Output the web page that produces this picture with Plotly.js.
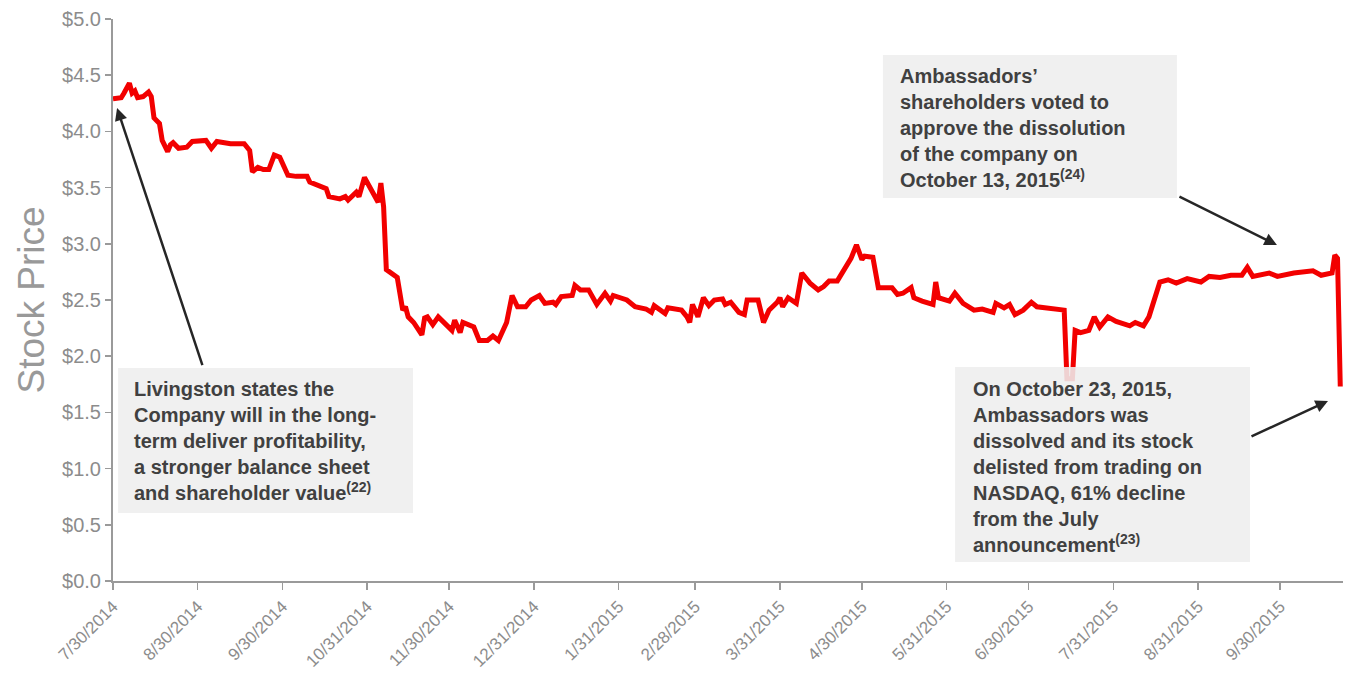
<!DOCTYPE html>
<html>
<head>
<meta charset="utf-8">
<script src="https://cdn.plot.ly/plotly-3.0.1.min.js"></script>
<style>
  html, body { margin: 0; padding: 0; background: #ffffff; }
  #chart { width: 1345px; height: 684px; }
</style>
</head>
<body>
<div id="chart"></div>
<script>
// ---- Data ----
const dates = [
  '2014-07-30','2014-08-02','2014-08-03','2014-08-05','2014-08-06','2014-08-07','2014-08-08','2014-08-10',
  '2014-08-12','2014-08-13','2014-08-14','2014-08-16','2014-08-17','2014-08-19','2014-08-20','2014-08-21',
  '2014-08-23','2014-08-26','2014-08-28','2014-09-02','2014-09-04','2014-09-06','2014-09-11','2014-09-16',
  '2014-09-18','2014-09-19','2014-09-21','2014-09-23','2014-09-25','2014-09-27','2014-09-29','2014-10-02',
  '2014-10-05','2014-10-09','2014-10-10','2014-10-13','2014-10-16','2014-10-17','2014-10-21','2014-10-23',
  '2014-10-24','2014-10-27','2014-10-28','2014-10-30','2014-11-01','2014-11-04','2014-11-05','2014-11-06',
  '2014-11-07','2014-11-09','2014-11-11','2014-11-13','2014-11-14','2014-11-15','2014-11-17','2014-11-20',
  '2014-11-21','2014-11-22','2014-11-24','2014-11-26','2014-11-28','2014-12-01','2014-12-02','2014-12-04',
  '2014-12-05','2014-12-09','2014-12-11','2014-12-14','2014-12-16','2014-12-18','2014-12-21','2014-12-23',
  '2014-12-25','2014-12-28','2014-12-30','2015-01-02','2015-01-04','2015-01-07','2015-01-08','2015-01-10',
  '2015-01-14','2015-01-15','2015-01-17','2015-01-20','2015-01-23','2015-01-26','2015-01-28','2015-01-29',
  '2015-02-03','2015-02-06','2015-02-10','2015-02-12','2015-02-13','2015-02-17','2015-02-18','2015-02-23',
  '2015-02-25','2015-02-26','2015-02-27','2015-03-01','2015-03-03','2015-03-05','2015-03-07','2015-03-10',
  '2015-03-11','2015-03-13','2015-03-16','2015-03-18','2015-03-19','2015-03-23','2015-03-25','2015-03-27',
  '2015-03-30','2015-03-31','2015-04-01','2015-04-03','2015-04-06','2015-04-08','2015-04-11','2015-04-14',
  '2015-04-16','2015-04-18','2015-04-21','2015-04-23','2015-04-26','2015-04-28','2015-04-30','2015-05-01',
  '2015-05-04','2015-05-06','2015-05-11','2015-05-13','2015-05-15','2015-05-18','2015-05-19','2015-05-22',
  '2015-05-26','2015-05-27','2015-05-28','2015-06-01','2015-06-03','2015-06-06','2015-06-10','2015-06-13',
  '2015-06-17','2015-06-18','2015-06-21','2015-06-23','2015-06-25','2015-06-28','2015-07-01','2015-07-03',
  '2015-07-07','2015-07-13','2015-07-14','2015-07-16','2015-07-17','2015-07-19','2015-07-22','2015-07-24',
  '2015-07-26','2015-07-29','2015-08-01','2015-08-06','2015-08-08','2015-08-11','2015-08-13','2015-08-17',
  '2015-08-20','2015-08-23','2015-08-27','2015-09-01','2015-09-04','2015-09-08','2015-09-12','2015-09-16',
  '2015-09-18','2015-09-20','2015-09-26','2015-09-29','2015-10-05','2015-10-12','2015-10-15','2015-10-19',
  '2015-10-20','2015-10-21','2015-10-22'
];
const prices = [
  4.29,4.30,4.34,4.43,4.34,4.36,4.30,4.31,
  4.35,4.31,4.12,4.07,3.92,3.82,3.88,3.90,
  3.85,3.86,3.91,3.92,3.85,3.91,3.89,3.89,
  3.83,3.64,3.68,3.66,3.66,3.79,3.77,3.61,
  3.60,3.60,3.55,3.52,3.49,3.42,3.40,3.42,
  3.39,3.46,3.42,3.59,3.51,3.37,3.54,3.33,
  2.77,2.74,2.70,2.41,2.44,2.35,2.30,2.19,
  2.34,2.35,2.28,2.35,2.30,2.23,2.32,2.21,
  2.30,2.26,2.14,2.14,2.18,2.14,2.30,2.54,
  2.44,2.44,2.50,2.54,2.47,2.48,2.46,2.53,
  2.54,2.63,2.59,2.59,2.46,2.56,2.49,2.54,
  2.50,2.44,2.42,2.39,2.45,2.38,2.43,2.41,
  2.35,2.30,2.46,2.35,2.52,2.45,2.50,2.51,
  2.46,2.48,2.39,2.37,2.50,2.50,2.30,2.41,
  2.48,2.52,2.44,2.52,2.47,2.74,2.65,2.59,
  2.62,2.67,2.67,2.75,2.87,2.99,2.86,2.89,
  2.88,2.61,2.61,2.55,2.56,2.61,2.52,2.49,
  2.46,2.66,2.52,2.49,2.56,2.47,2.41,2.42,
  2.39,2.47,2.43,2.46,2.37,2.41,2.48,2.44,
  2.43,2.41,1.80,1.80,2.23,2.21,2.23,2.35,
  2.26,2.35,2.31,2.27,2.30,2.27,2.35,2.66,
  2.68,2.65,2.69,2.66,2.71,2.70,2.72,2.72,
  2.79,2.71,2.74,2.71,2.74,2.76,2.72,2.74,
  2.90,2.87,1.73
];
const tickDates = ['2014-07-30','2014-08-30','2014-09-30','2014-10-31','2014-11-30','2014-12-31','2015-01-31',
  '2015-02-28','2015-03-31','2015-04-30','2015-05-31','2015-06-30','2015-07-31','2015-08-31','2015-09-30'];
const tickLabels = ['7/30/2014','8/30/2014','9/30/2014','10/31/2014','11/30/2014','12/31/2014','1/31/2015',
  '2/28/2015','3/31/2015','4/30/2015','5/31/2015','6/30/2015','7/31/2015','8/31/2015','9/30/2015'];
const yTitle = 'Stock Price';
const note1 = 'Livingston states the<br>Company will in the long-<br>term deliver profitability,<br>a stronger balance sheet<br>and shareholder value<sup>(22)</sup>';
const note2 = 'Ambassadors’<br>shareholders voted to<br>approve the dissolution<br>of the company on<br>October 13, 2015<sup>(24)</sup>';
const note3 = 'On October 23, 2015,<br>Ambassadors was<br>dissolved and its stock<br>delisted from trading on<br>NASDAQ, 61% decline<br>from the July<br>announcement<sup>(23)</sup>';

// ---- Chart ----
const gray = '#8c8c8c';
const trace = {
  x: dates, y: prices, type: 'scatter', mode: 'lines',
  line: { color: '#f20000', width: 5 },
  hoverinfo: 'skip'
};
const boxFill = 'rgba(238,238,238,0.88)';
const noteFont = { family: 'Liberation Sans, Arial, sans-serif', size: 20, color: '#404040' };
function box(x0, x1, y0, y1) {
  return { type: 'rect', xref: 'paper', yref: 'paper', x0: x0, x1: x1, y0: y0, y1: y1,
           fillcolor: boxFill, line: { width: 0 }, layer: 'above' };
}
function note(text, x, y) {
  return { text: '<b>' + text + '</b>', xref: 'paper', yref: 'paper', x: x, y: y,
           xanchor: 'left', yanchor: 'top', align: 'left', showarrow: false,
           font: noteFont, borderpad: 0 };
}
function arrow(x, y, ax, ay) {
  return { text: ' ', xref: 'paper', yref: 'paper', x: x, y: y, ax: ax, ay: ay,
           showarrow: true, arrowhead: 2, arrowsize: 1, arrowwidth: 2.5, arrowcolor: '#262626',
           font: { size: 1 } };
}
const layout = {
  width: 1345, height: 684,
  margin: { l: 113, r: 2, t: 19, b: 103 },
  paper_bgcolor: '#ffffff', plot_bgcolor: '#ffffff',
  showlegend: false,
  font: { family: 'Liberation Sans, Arial, sans-serif', color: gray },
  xaxis: {
    type: 'date', range: ['2014-07-30', '2015-10-23'],
    tickmode: 'array', tickvals: tickDates, ticktext: tickLabels,
    tickangle: -45, tickfont: { size: 17, color: gray },
    showgrid: false, zeroline: false,
    showline: true, linecolor: '#9a9a9a', linewidth: 2,
    ticks: 'outside', ticklen: 7, tickwidth: 1.5, tickcolor: '#9a9a9a'
  },
  yaxis: {
    range: [0, 5], dtick: 0.5, tick0: 0, tickprefix: '$', tickformat: '.1f',
    tickfont: { size: 20, color: gray },
    showgrid: false, zeroline: false,
    showline: true, linecolor: '#9a9a9a', linewidth: 2,
    ticks: 'outside', ticklen: 6, tickwidth: 1.5, tickcolor: '#9a9a9a',
    title: { text: yTitle, font: { size: 37, color: '#999999' }, standoff: 6 }
  },
  shapes: [
    box(0.0041, 0.2439, 0.379, 0.121),
    box(0.626, 0.865, 0.936, 0.6815),
    box(0.6846, 0.9244, 0.3808, 0.0338)
  ],
  annotations: [
    note(note1, 0.0163, 0.363),
    note(note2, 0.639, 0.920),
    note(note3, 0.698, 0.363),
    arrow(0.0033, 0.8416, 86, 259),
    arrow(0.9463, 0.5979, -99, -49),
    arrow(0.9878, 0.3203, -78, 36)
  ]
};
Plotly.newPlot('chart', [trace], layout, { displayModeBar: false, staticPlot: true });
</script>
</body>
</html>
